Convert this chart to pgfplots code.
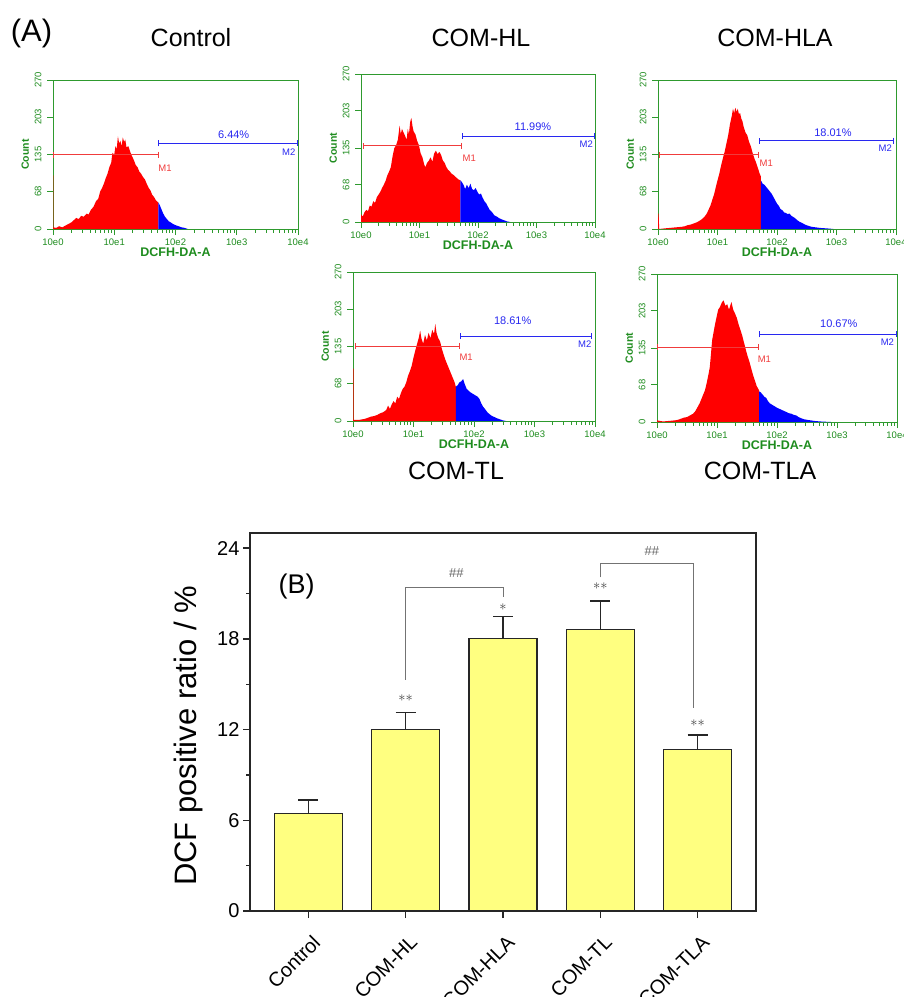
\documentclass[border=0pt]{standalone}
\usepackage{fontspec}
\setmainfont{Liberation Sans}
\usepackage{pgfplots}
\pgfplotsset{compat=1.18}
\usetikzlibrary{arrows.meta}
\definecolor{hgreen}{HTML}{2E9A2E}
\definecolor{htext}{HTML}{1E8C1E}
\definecolor{mred}{HTML}{F03C3C}
\definecolor{mblue}{HTML}{2828F0}
\definecolor{barfill}{HTML}{FFFF80}

\pgfplotsset{
  hist/.style={
    scale only axis, anchor=north west,
    xmin=0, xmax=4, ymin=0, ymax=270,
    axis line style={hgreen, line width=0.8pt},
    xtick={0,1,2,3,4}, xticklabels={10e0,10e1,10e2,10e3,10e4},
    minor xtick={0.301,0.477,0.602,0.699,0.778,0.845,0.903,0.954,
                 1.301,1.477,1.602,1.699,1.778,1.845,1.903,1.954,
                 2.301,2.477,2.602,2.699,2.778,2.845,2.903,2.954,
                 3.301,3.477,3.602,3.699,3.778,3.845,3.903,3.954},
    ytick={0,68,135,203,270}, minor y tick num=4,
    xtick pos=bottom, ytick pos=left, tick align=outside,
    tick style={hgreen, line width=0.7pt},
    major tick length=6pt, minor tick length=3.5pt,
    tick label style={htext, font=\fontsize{9.5}{11}\selectfont},
    yticklabel style={rotate=90, anchor=south, yshift=2pt},
    xlabel={DCFH-DA-A}, ylabel={Count},
    xlabel style={htext, font=\bfseries\fontsize{12.5}{14}\selectfont, yshift=4pt},
    ylabel style={htext, font=\bfseries\fontsize{10.5}{12}\selectfont, yshift=-1pt},
    /pgf/number format/assume math mode=true,
  },
}
\tikzset{
  gate/.style={line width=0.8pt, {Bar[width=6pt]}-{Bar[width=6pt]}},
  pct/.style={mblue, font=\fontsize{11}{13}\selectfont},
  mlab/.style={font=\fontsize{9.5}{11}\selectfont},
}

\begin{document}
\begin{tikzpicture}
\path[use as bounding box] (0,0) rectangle (904pt,-997pt);

% panel titles
\node[font=\fontsize{31}{34}\selectfont] at (31.5pt,-33pt) {(A)};
\node[font=\fontsize{25}{30}\selectfont] at (191pt,-38pt) {Control};
\node[font=\fontsize{25}{30}\selectfont] at (481pt,-38pt) {COM-HL};
\node[font=\fontsize{25}{30}\selectfont] at (775pt,-38pt) {COM-HLA};
\node[font=\fontsize{25}{30}\selectfont] at (456pt,-471pt) {COM-TL};
\node[font=\fontsize{25}{30}\selectfont] at (760pt,-471pt) {COM-TLA};

% Control
\begin{axis}[hist, at={(53pt,-80pt)}, width=245pt, height=149pt]
\addplot[fill=red, draw=none] coordinates {
 (0.00,0) (0.00,97) (0.008,97) (0.008,3) (0.05,2) (0.10,5) (0.15,3) (0.20,6) (0.25,9) (0.30,12) (0.35,17)
 (0.38,20) (0.42,18) (0.46,24) (0.50,22) (0.55,28) (0.58,26) (0.62,35) (0.66,40)
 (0.70,50) (0.74,55) (0.77,68) (0.80,74) (0.83,82) (0.86,92) (0.89,100) (0.92,112)
 (0.95,120) (0.97,138) (1.00,135) (1.02,150) (1.04,145) (1.06,168) (1.08,155)
 (1.10,160) (1.12,150) (1.14,166) (1.16,158) (1.18,162) (1.20,148) (1.23,150)
 (1.26,140) (1.29,132) (1.32,125) (1.35,116) (1.38,112) (1.41,104) (1.44,100)
 (1.47,94) (1.50,90) (1.53,82) (1.56,75) (1.59,70) (1.62,62) (1.65,58) (1.68,52)
 (1.72,48)} \closedcycle;
\addplot[fill=blue, draw=none] coordinates {
 (1.72,48) (1.74,44) (1.77,36) (1.80,28) (1.83,22) (1.86,18) (1.89,14) (1.92,12)
 (1.96,9) (2.00,7) (2.05,5) (2.10,3) (2.15,2) (2.20,0)} \closedcycle;
\draw[mred, gate] (axis cs:0,135) -- (axis cs:1.72,135);
\draw[mblue, gate] (axis cs:1.72,155) -- (axis cs:3.99,155);
\node[pct] at (axis cs:2.95,170) {6.44\%};
\node[mlab, mred] at (axis cs:1.83,110) {M1};
\node[mlab, mblue] at (axis cs:3.85,140) {M2};
\end{axis}

% COM-HL
\begin{axis}[hist, at={(361pt,-74pt)}, width=234pt, height=148pt]
\addplot[fill=red, draw=none] coordinates {
 (0.00,0) (0.00,14) (0.03,10) (0.06,18) (0.09,22) (0.12,20) (0.15,30) (0.18,28)
 (0.21,38) (0.24,35) (0.27,45) (0.30,50) (0.33,55) (0.36,62) (0.39,68) (0.42,75)
 (0.45,85) (0.48,92) (0.51,100) (0.54,120) (0.57,135) (0.60,140) (0.63,150)
 (0.66,176) (0.68,160) (0.70,170) (0.72,165) (0.75,158) (0.78,150) (0.80,170)
 (0.82,160) (0.84,182) (0.86,190) (0.88,175) (0.90,165) (0.93,160) (0.96,148)
 (0.99,140) (1.02,125) (1.05,118) (1.08,105) (1.10,100) (1.13,108) (1.16,112)
 (1.19,118) (1.22,110) (1.25,125) (1.28,130) (1.31,124) (1.34,128) (1.37,122)
 (1.40,112) (1.43,108) (1.46,100) (1.49,95) (1.52,92) (1.55,88) (1.58,86)
 (1.62,82) (1.66,78) (1.70,76)} \closedcycle;
\addplot[fill=blue, draw=none] coordinates {
 (1.70,76) (1.73,72) (1.76,66) (1.78,60) (1.81,68) (1.84,62) (1.87,70) (1.90,60)
 (1.93,58) (1.96,62) (1.99,55) (2.02,50) (2.05,52) (2.08,44) (2.11,38) (2.14,34)
 (2.17,28) (2.20,22) (2.24,18) (2.28,12) (2.32,10) (2.36,7) (2.40,5) (2.45,3)
 (2.50,1) (2.55,0)} \closedcycle;
\draw[mred, gate] (axis cs:0.03,139) -- (axis cs:1.72,139);
\draw[mblue, gate] (axis cs:1.72,157) -- (axis cs:3.99,157);
\node[pct] at (axis cs:2.94,173) {11.99\%};
\node[mlab, mred] at (axis cs:1.85,116) {M1};
\node[mlab, mblue] at (axis cs:3.85,142) {M2};
\end{axis}

% COM-HLA
\begin{axis}[hist, at={(658pt,-80pt)}, width=238pt, height=149pt]
\addplot[fill=red, draw=none] coordinates {
 (0.00,0) (0.00,28) (0.01,28) (0.02,0) (0.10,1) (0.20,2) (0.30,3) (0.40,4) (0.45,5)
 (0.50,7) (0.55,8) (0.60,10) (0.65,12) (0.70,15) (0.74,18) (0.78,22) (0.82,28)
 (0.85,35) (0.88,42) (0.91,52) (0.94,62) (0.97,75) (1.00,88) (1.03,100) (1.06,115)
 (1.09,128) (1.12,140) (1.15,155) (1.18,170) (1.21,190) (1.24,205) (1.26,218)
 (1.28,210) (1.30,220) (1.32,212) (1.34,218) (1.36,208) (1.38,210) (1.40,200)
 (1.42,195) (1.44,185) (1.47,175) (1.50,170) (1.53,158) (1.56,150) (1.59,138)
 (1.62,128) (1.65,120) (1.68,110) (1.71,100) (1.73,95)} \closedcycle;
\addplot[fill=blue, draw=none] coordinates {
 (1.73,88) (1.76,82) (1.79,80) (1.82,76) (1.85,72) (1.88,68) (1.91,64) (1.94,58)
 (1.97,52) (2.00,46) (2.03,42) (2.06,36) (2.09,34) (2.12,30) (2.15,29) (2.18,27)
 (2.21,28) (2.24,24) (2.27,22) (2.30,20) (2.34,16) (2.38,13) (2.42,11) (2.47,8)
 (2.52,6) (2.58,4) (2.65,3) (2.72,2) (2.85,1) (2.95,0)} \closedcycle;
\draw[mred, gate] (axis cs:0.02,135) -- (axis cs:1.70,135);
\draw[mblue, gate] (axis cs:1.70,160) -- (axis cs:3.97,160);
\node[pct] at (axis cs:2.94,175) {18.01\%};
\node[mlab, mred] at (axis cs:1.82,120) {M1};
\node[mlab, mblue] at (axis cs:3.82,146) {M2};
\end{axis}

% COM-TL
\begin{axis}[hist, at={(353pt,-272pt)}, width=242pt, height=149pt]
\addplot[fill=red, draw=none] coordinates {
 (0.00,0) (0.00,95) (0.01,95) (0.01,2) (0.10,2) (0.15,3) (0.20,4) (0.25,6) (0.30,8)
 (0.35,9) (0.40,11) (0.45,14) (0.50,16) (0.55,20) (0.58,28) (0.61,22) (0.64,30)
 (0.67,36) (0.70,32) (0.73,44) (0.76,40) (0.79,50) (0.82,58) (0.85,62) (0.88,70)
 (0.91,82) (0.94,90) (0.97,100) (1.00,115) (1.03,128) (1.06,140) (1.09,152)
 (1.11,164) (1.13,150) (1.16,140) (1.19,156) (1.22,146) (1.25,160) (1.28,150)
 (1.31,165) (1.34,158) (1.36,176) (1.38,160) (1.41,150) (1.44,144) (1.47,130)
 (1.50,120) (1.53,110) (1.56,102) (1.59,94) (1.62,86) (1.65,78) (1.68,70)
 (1.70,62)} \closedcycle;
\addplot[fill=blue, draw=none] coordinates {
 (1.70,62) (1.73,65) (1.76,70) (1.79,72) (1.82,76) (1.85,66) (1.88,58) (1.91,55)
 (1.94,52) (1.97,50) (2.00,48) (2.03,46) (2.06,44) (2.09,40) (2.12,32) (2.15,26)
 (2.18,22) (2.22,16) (2.26,12) (2.30,9) (2.34,7) (2.38,5) (2.43,3) (2.48,1)
 (2.53,0)} \closedcycle;
\draw[mred, gate] (axis cs:0.03,136) -- (axis cs:1.77,136);
\draw[mblue, gate] (axis cs:1.77,154) -- (axis cs:3.95,154);
\node[pct] at (axis cs:2.64,181) {18.61\%};
\node[mlab, mred] at (axis cs:1.87,115) {M1};
\node[mlab, mblue] at (axis cs:3.83,140) {M2};
\end{axis}

% COM-TLA
\begin{axis}[hist, at={(657pt,-274pt)}, width=240pt, height=148pt]
\addplot[fill=red, draw=none] coordinates {
 (0.00,0) (0.00,3) (0.10,1) (0.20,2) (0.30,3) (0.35,4) (0.40,6) (0.45,8) (0.50,9)
 (0.55,12) (0.60,15) (0.64,20) (0.68,28) (0.71,34) (0.74,42) (0.77,50) (0.80,58)
 (0.83,72) (0.86,88) (0.88,100) (0.90,125) (0.92,150) (0.94,162) (0.96,174)
 (0.98,185) (1.00,195) (1.02,205) (1.05,210) (1.08,218) (1.11,222) (1.14,212)
 (1.17,215) (1.20,205) (1.22,212) (1.24,219) (1.27,205) (1.30,198) (1.33,190)
 (1.36,178) (1.39,168) (1.42,158) (1.45,145) (1.48,132) (1.51,120) (1.54,110)
 (1.57,98) (1.60,86) (1.63,76) (1.66,66) (1.70,58)} \closedcycle;
\addplot[fill=blue, draw=none] coordinates {
 (1.70,56) (1.73,54) (1.76,50) (1.79,46) (1.82,44) (1.85,38) (1.88,34) (1.91,32)
 (1.94,30) (1.97,28) (2.00,26) (2.04,24) (2.08,22) (2.12,20) (2.16,18) (2.20,16)
 (2.24,15) (2.28,13) (2.32,12) (2.36,9) (2.40,7) (2.45,5) (2.50,4) (2.56,3)
 (2.62,2) (2.72,1) (2.90,0)} \closedcycle;
\draw[mred, gate] (axis cs:0,137) -- (axis cs:1.70,137);
\draw[mblue, gate] (axis cs:1.70,160) -- (axis cs:4.0,160);
\node[pct] at (axis cs:3.03,179) {10.67\%};
\node[mlab, mred] at (axis cs:1.79,114) {M1};
\node[mlab, mblue] at (axis cs:3.84,145) {M2};
\end{axis}

% (B) bar chart
\begin{axis}[
  at={(250pt,-911pt)}, anchor=south west, scale only axis,
  width=506pt, height=378pt,
  xmin=0.4, xmax=5.6, ymin=0, ymax=25,
  ybar, bar width=68pt,
  xtick={1,2,3,4,5}, xticklabels={Control,COM-HL,COM-HLA,COM-TL,COM-TLA},
  ytick={0,6,12,18,24}, minor ytick={3,9,15,21},
  xtick pos=bottom, ytick pos=left, tick align=outside,
  major tick length=7pt, minor tick length=4pt,
  axis line style={line width=1.4pt, black!85},
  tick style={line width=1.4pt, black!85},
  tick label style={font=\fontsize{20}{24}\selectfont},
  xticklabel style={xshift=3pt, yshift=-11pt, rotate=45, anchor=north east},
  ylabel={DCF positive ratio / \%},
  ylabel style={at={(axis description cs:-0.1225,0.463)}, anchor=center,
                font=\fontsize{31}{36}\selectfont},
  /pgf/number format/assume math mode=true,
  clip=false,
]
\addplot[fill=barfill, draw=black!85, line width=1.4pt,
  error bars/.cd, y dir=plus, y explicit,
  error bar style={line width=1.4pt, black!85},
  error mark options={rotate=90, mark size=10pt, line width=1.4pt, black!85}]
  coordinates {(1,6.44) +- (0,0.90) (2,11.99) +- (0,1.15) (3,18.01) +- (0,1.48)
               (4,18.61) +- (0,1.89) (5,10.67) +- (0,0.97)};
\node[font=\fontsize{27}{30}\selectfont] at (axis cs:0.88,21.45) {(B)};
\draw[black!55, line width=0.8pt] (axis cs:2.0,15.28) -- (axis cs:2.0,21.38) -- (axis cs:3.0,21.38) -- (axis cs:3.0,20.74);
\draw[black!55, line width=0.8pt] (axis cs:4.0,22.07) -- (axis cs:4.0,22.97) -- (axis cs:4.96,22.97) -- (axis cs:4.96,13.41);
\node[black!60, font=\fontsize{13}{15}\selectfont] at (axis cs:2.52,22.37) {\#\#};
\node[black!60, font=\fontsize{13}{15}\selectfont] at (axis cs:4.53,23.83) {\#\#};
\node[black!75, font=\fontsize{15}{17}\selectfont] at (axis cs:2.0,14.07) {$\ast\ast$};
\node[black!75, font=\fontsize{15}{17}\selectfont] at (axis cs:3.0,20.09) {$\ast$};
\node[black!75, font=\fontsize{15}{17}\selectfont] at (axis cs:4.0,21.49) {$\ast\ast$};
\node[black!75, font=\fontsize{15}{17}\selectfont] at (axis cs:5.0,12.45) {$\ast\ast$};
\end{axis}
\end{tikzpicture}
\end{document}
